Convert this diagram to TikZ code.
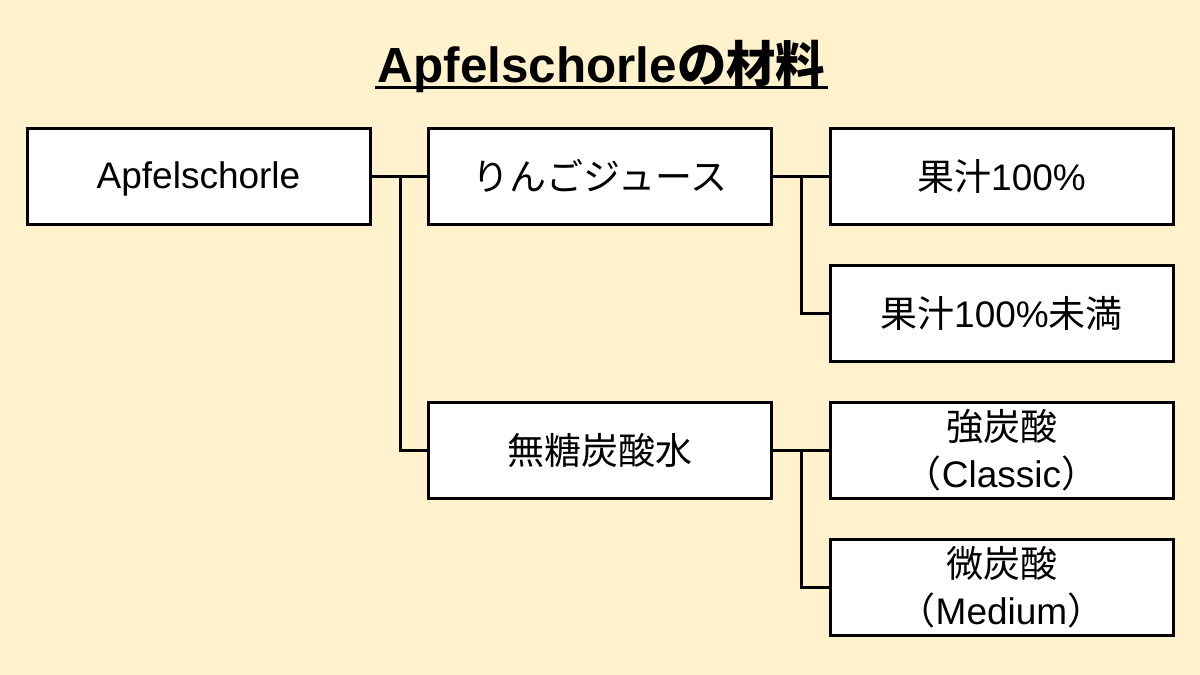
\documentclass[tikz,border=0pt]{standalone}
\usepackage{fontspec}
\setmainfont{Liberation Sans}
\newfontfamily\jp{Noto Sans CJK JP}
\usetikzlibrary{calc}
\definecolor{bgc}{HTML}{FFF2CC}
\tikzset{
  box/.style={draw=black, fill=white, line width=1.5pt, minimum width=171.5pt, minimum height=48pt, inner sep=0pt, align=center, font=\fontsize{18.5}{23.5}\selectfont},
  conn/.style={draw=black, line width=1.5pt},
}
\begin{document}
\begin{tikzpicture}[x=0.5pt,y=-0.5pt]
\fill[bgc] (0,0) rectangle (1200,675);
\useasboundingbox (0,0) rectangle (1200,675);
\node[anchor=base, inner sep=0pt, font=\fontsize{24.7}{28}\selectfont\bfseries] (title) at (601.5,82) {Apfelschorle{\jp の材料}};
\draw[line width=1.5pt] ($(title.base west)+(-2,5)$) coordinate (ul1) -- ($(title.base east)+(2,5)$) coordinate (ul2);
\node[box] (A) at (198.5,176) {\raisebox{-1.5pt}{Apfelschorle}\vphantom{\jp 果}};
\node[box] (B) at (600,176) {\jp りんごジュース};
\node[box] (C1) at (1001.5,176) {{\jp 果汁}100\%};
\node[box] (C2) at (1001.5,313) {{\jp 果汁}100\%{\jp 未満}};
\node[box] (D) at (600,450) {\jp 無糖炭酸水};
\node[box] (E1) at (1001.5,450) {{\jp 強炭酸}\\{\jp （}Classic{\jp ）}};
\node[box] (E2) at (1001.5,587) {{\jp 微炭酸}\\{\jp （}Medium{\jp ）}};
\coordinate (j1) at (400,176);
\coordinate (j2) at (801,176);
\coordinate (j3) at (801,450);
\draw[conn] (A.east) -- (B.west);
\draw[conn] (j1) |- (D.west);
\draw[conn] (B.east) -- (C1.west);
\draw[conn] (j2) |- (C2.west);
\draw[conn] (D.east) -- (E1.west);
\draw[conn] (j3) |- (E2.west);
\end{tikzpicture}
\end{document}
